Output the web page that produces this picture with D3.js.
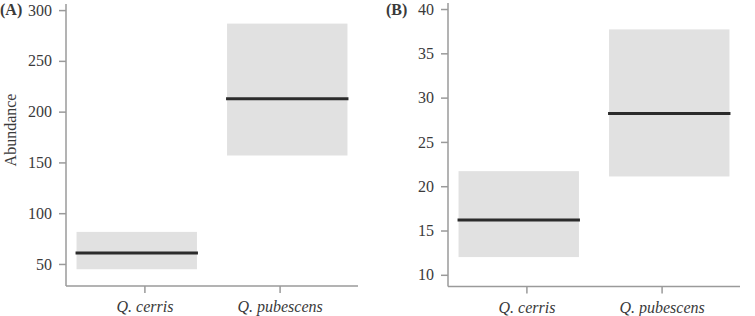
<!DOCTYPE html>
<html>
<head>
<meta charset="utf-8">
<script src="https://cdn.jsdelivr.net/npm/d3@7"></script>
<style>
  body { margin: 0; background: #fff; }
  svg text { font-family: "Liberation Serif", "DejaVu Serif", serif; }
  .axis path, .axis line { stroke: #9a9a9a; stroke-width: 1.5; }
  .axis text { fill: #3a3a3a; font-size: 16px; }
</style>
</head>
<body>
<div id="chart"></div>
<script>
// Data
const species = ["Q. cerris", "Q. pubescens"];

// Panel A (abundance)
const meanA = [60.8, 212.7];
const lowA = [44.8, 156.8];
const highA = [81.6, 286.7];
const ticksA = [50, 100, 150, 200, 250, 300];

// Panel B
const meanB = [16.2, 28.2];
const lowB = [12.0, 21.1];
const highB = [21.7, 37.7];
const ticksB = [10, 15, 20, 25, 30, 35, 40];

const W = 755, H = 316;

const svg = d3.select("#chart")
    .append("svg")
    .attr("width", W)
    .attr("height", H);

function drawPanel(opt) {
    const x = d3.scaleBand()
        .domain(species)
        .range([opt.left, opt.right])
        .paddingInner(0.2)
        .paddingOuter(0.07);
    const xTick = d3.scalePoint()
        .domain(species)
        .range([opt.left, opt.right])
        .padding(0.58);
    const y = d3.scaleLinear()
        .domain(opt.domain)
        .range([opt.bottom, opt.top]);

    const g = svg.append("g");

    const rows = species.map((s, i) => ({sp: s, mean: opt.mean[i], low: opt.low[i], high: opt.high[i]}));

    // grey interval boxes
    g.selectAll("rect.box")
        .data(rows)
        .join("rect")
        .attr("class", "box")
        .attr("x", d => x(d.sp))
        .attr("width", x.bandwidth())
        .attr("y", d => y(d.high))
        .attr("height", d => y(d.low) - y(d.high))
        .attr("fill", "#e1e1e1");

    // mean lines
    g.selectAll("line.mean")
        .data(rows)
        .join("line")
        .attr("class", "mean")
        .attr("x1", d => x(d.sp) - 1)
        .attr("x2", d => x(d.sp) + x.bandwidth() + 1)
        .attr("y1", d => y(d.mean))
        .attr("y2", d => y(d.mean))
        .attr("stroke", "#2b2b2b")
        .attr("stroke-width", 3);

    // y axis
    const ya = g.append("g")
        .attr("class", "axis")
        .attr("transform", `translate(${opt.left},0)`)
        .call(d3.axisLeft(y).tickValues(opt.ticks).tickSize(7).tickSizeOuter(0).tickPadding(7));
    ya.select(".domain").remove();
    ya.append("line")
        .attr("x1", 0).attr("x2", 0)
        .attr("y1", opt.top).attr("y2", opt.bottom);

    // x axis
    const xa = g.append("g")
        .attr("class", "axis")
        .attr("transform", `translate(0,${opt.bottom})`)
        .call(d3.axisBottom(xTick).tickSize(7).tickSizeOuter(0).tickPadding(8));
    xa.select(".domain").remove();
    xa.append("line")
        .attr("x1", opt.left).attr("x2", opt.right)
        .attr("y1", 0).attr("y2", 0);
    xa.selectAll(".tick text").style("font-style", "italic");

    // panel letter
    g.append("text")
        .attr("x", opt.letterX)
        .attr("y", 15)
        .attr("font-weight", "bold")
        .attr("font-size", 16)
        .attr("fill", "#3a3a3a")
        .text(opt.letter);

    if (opt.ylabel) {
        g.append("text")
            .attr("transform", `translate(16,130) rotate(-90)`)
            .attr("text-anchor", "middle")
            .attr("font-size", 16)
            .attr("fill", "#3a3a3a")
            .text(opt.ylabel);
    }
}

drawPanel({
    left: 66, right: 358, top: 4, bottom: 286,
    domain: [28.3, 306], ticks: ticksA,
    mean: meanA, low: lowA, high: highA,
    letter: "(A)", letterX: 0, ylabel: "Abundance"
});

drawPanel({
    left: 448, right: 740, top: 3, bottom: 286.5,
    domain: [8.68, 40.68], ticks: ticksB,
    mean: meanB, low: lowB, high: highB,
    letter: "(B)", letterX: 386
});
</script>
</body>
</html>
